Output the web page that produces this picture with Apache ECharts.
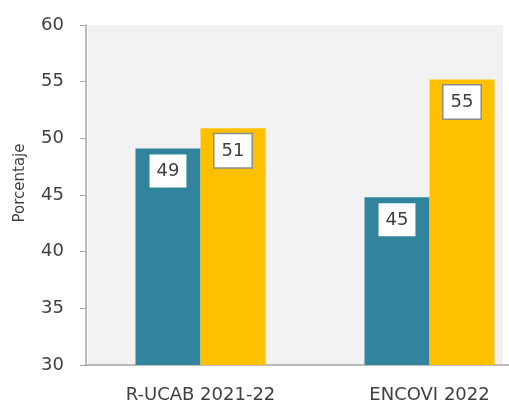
<!DOCTYPE html>
<html>
<head>
<meta charset="utf-8">
<script src="https://cdn.jsdelivr.net/npm/echarts@6/dist/echarts.min.js"></script>
<style>html,body{margin:0;padding:0;background:#fff;}#c{width:509px;height:402px;}</style>
</head>
<body>
<div id="c"></div>
<script>
var categories = ['R-UCAB 2021-22', 'ENCOVI 2022'];
var seriesA = [49.1, 44.8];
var seriesB = [50.9, 55.2];
var labelsA = ['49', '45'];
var labelsB = ['51', '55'];
var yTicks = {min: 30, max: 60, interval: 5};

var chart = echarts.init(document.getElementById('c'), null, {renderer: 'canvas'});
var font = 'DejaVu Sans';
function lab(arr, border) {
  return {
    show: true, position: 'insideTop', distance: 6,
    formatter: function (p) { return arr[p.dataIndex]; },
    backgroundColor: '#ffffff', borderColor: border, borderWidth: border ? 1.5 : 0,
    padding: [8, 7, 7, 7], color: '#404040', fontFamily: font, fontSize: 18
  };
}
chart.setOption({
  animation: false,
  graphic: [{type: 'rect', z: -10, shape: {x: 88, y: 25, width: 415, height: 340}, style: {fill: '#f2f2f2'}}],
  grid: {left: 86, top: 25, width: 458, height: 340, containLabel: false, outerBoundsMode: 'none'},
  xAxis: {
    type: 'category', data: categories,
    axisLine: {lineStyle: {color: '#a6a6a6', width: 1.5}},
    axisTick: {show: false},
    axisLabel: {color: '#404040', fontFamily: font, fontSize: 18, margin: 21}
  },
  yAxis: {
    type: 'value', min: yTicks.min, max: yTicks.max, interval: yTicks.interval,
    name: 'Porcentaje', nameLocation: 'middle', nameGap: 58, nameRotate: 90,
    nameTextStyle: {color: '#404040', fontFamily: font, fontSize: 15, padding: [0, 0, 0, 24]},
    axisLine: {show: true, lineStyle: {color: '#a6a6a6', width: 1.5}},
    axisTick: {show: true, inside: false, length: 6, lineStyle: {color: '#a6a6a6'}},
    axisLabel: {color: '#404040', fontFamily: font, fontSize: 18, margin: 22},
    splitLine: {show: false}
  },
  series: [
    {type: 'bar', data: seriesA, barWidth: 65, barGap: '0%', itemStyle: {color: '#31849b'}, label: lab(labelsA, null)},
    {type: 'bar', data: seriesB, barWidth: 65, barGap: '0%', itemStyle: {color: '#ffc000'}, label: lab(labelsB, '#8c8c8c')}
  ]
});
</script>
</body>
</html>
